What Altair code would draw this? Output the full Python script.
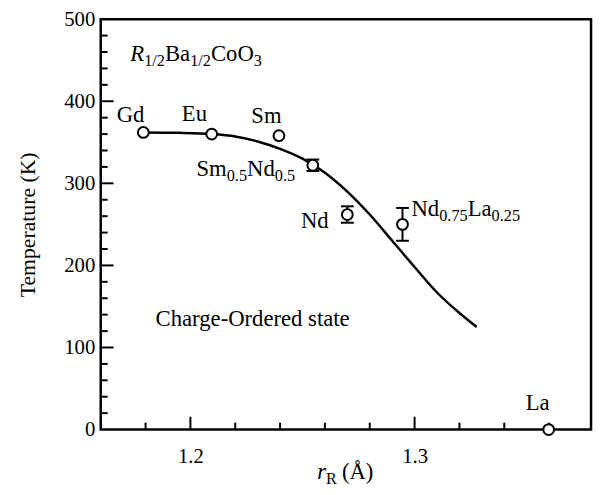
import altair as alt
import pandas as pd

FONT = "Liberation Serif"

# ---------------- data ----------------
names = ["Gd", "Eu", "Sm", "Sm0.5Nd0.5", "Nd", "Nd0.75La0.25", "La"]
r_R = [1.179, 1.2095, 1.2395, 1.2546, 1.270, 1.2946, 1.3598]
temp = [362, 360, 358, 322, 262, 250, 0]
err = [0, 0, 0, 7, 10, 20, 0]

curve_r = [1.179, 1.195, 1.2095, 1.22, 1.23, 1.24, 1.25, 1.26, 1.27,
           1.28, 1.29, 1.30, 1.31, 1.32, 1.3277]
curve_T = [362, 361.5, 360, 357, 351, 342, 330, 313, 290,
           262, 230, 198, 167, 142, 125]

x_major = [1.2, 1.3]
x_minor = [1.18, 1.22, 1.24, 1.26, 1.28, 1.32, 1.34, 1.36]
y_major = [100, 200, 300, 400]
y_minor = [20, 40, 60, 80, 120, 140, 160, 180, 220, 240, 260, 280,
           320, 340, 360, 380, 420, 440, 460, 480]
y_labels = [0, 100, 200, 300, 400, 500]

X_DOMAIN = [1.16, 1.3787]
Y_DOMAIN = [0, 500]
W_PX, H_PX = 497, 416

# label segments: (text, kind) kind: n normal, i italic, s subscript, g gap(px)
labels = [
    ([("Gd", "n")], 1.1733, 375, "center"),
    ([("Eu", "n")], 1.2018, 376, "center"),
    ([("Sm", "n")], 1.2339, 374, "center"),
    ([("Sm", "n"), ("0.5", "s"), ("Nd", "n"), ("0.5", "s")], 1.2027, 309, "left"),
    ([("Nd", "n")], 1.2555, 245, "center"),
    ([("Nd", "n"), ("0.75", "s"), ("La", "n"), ("0.25", "s")], 1.2986, 260, "left"),
    ([("La", "n")], 1.3549, 24, "center"),
    ([("Charge-Ordered state", "n")], 1.2713, 126, "right"),
    ([("R", "i"), ("1/2", "s"), ("Ba", "n"), ("1/2", "s"), ("CoO", "n"), ("3", "s")], 1.1732, 449.5, "left"),
    ([("r", "i"), ("R", "s"), ("5", "g"), ("(Å)", "n")], 1.2691, -60, "center"),
]

MAIN, SUB, DROP = 23, 16.5, 5

# Times metrics (per 1000 em)
WID = {'0': 500, '1': 500, '2': 500, '3': 500, '5': 500, '7': 500, '.': 250, '/': 278,
       'S': 556, 'm': 778, 'N': 722, 'd': 500, 'L': 611, 'a': 444, 'B': 667, 'C': 667,
       'o': 500, 'O': 722, 'R': 667, 'r': 333, '(': 333, ')': 333, 'Å': 722, ' ': 250,
       'E': 611, 'u': 500, 'G': 722, 'h': 500, 'g': 500, 'e': 444, '-': 333, 's': 389,
       't': 278}
WID_I = {'R': 611, 'r': 389}

KX = W_PX / (X_DOMAIN[1] - X_DOMAIN[0])
KY = H_PX / (Y_DOMAIN[1] - Y_DOMAIN[0])


def seg_w(text, kind):
    if kind == "g":
        return float(text)
    size = SUB if kind == "s" else MAIN
    tab = WID_I if kind == "i" else {}
    return sum(tab.get(c, WID.get(c, 500)) for c in text) * size / 1000.0


rows = []
for segs, ax, ay, align in labels:
    total = sum(seg_w(t, k) for t, k in segs)
    if align == "center":
        off = -total / 2
    elif align == "right":
        off = -total
    else:
        off = 0.0
    for t, k in segs:
        if k != "g":
            rows.append({
                "x": ax + off / KX,
                "y": ay - (DROP / KY if k == "s" else 0),
                "text": t,
                "size": SUB if k == "s" else MAIN,
                "italic": k == "i",
            })
        off += seg_w(t, k)

txt = pd.DataFrame(rows)
pts = pd.DataFrame({"r": r_R, "T": temp, "err": err, "name": names})
pts["lo"] = pts["T"] - pts["err"]
pts["hi"] = pts["T"] + pts["err"]
bars = pts[pts["err"] > 0]
curve = pd.DataFrame({"r": curve_r, "T": curve_T})

xs = alt.Scale(domain=X_DOMAIN, nice=False, zero=False)
ys = alt.Scale(domain=Y_DOMAIN, nice=False, zero=False)

axis_x = alt.Axis(values=x_major, format=".1f", title=None, grid=False, domain=False,
                  ticks=False, tickSize=0, labelFont=FONT, labelFontSize=21,
                  labelColor="black", labelPadding=16)
axis_y = alt.Axis(values=y_labels, format="d", title="Temperature (K)", grid=False,
                  domain=False, ticks=False, tickSize=0, labelFont=FONT,
                  labelFontSize=21, labelColor="black", labelPadding=6,
                  titleFont=FONT, titleFontSize=22, titleFontWeight="normal",
                  titleColor="black", titleX=-74, titleY=208, titleAngle=270,
                  titleAlign="center", titleBaseline="middle")

line = alt.Chart(curve).mark_line(color="black", strokeWidth=2.5, interpolate="monotone").encode(
    x=alt.X("r:Q", scale=xs, axis=axis_x),
    y=alt.Y("T:Q", scale=ys, axis=axis_y),
)

ebar = alt.Chart(bars).mark_rule(color="black", strokeWidth=2).encode(
    x=alt.X("r:Q", scale=xs), y=alt.Y("lo:Q", scale=ys), y2="hi:Q")
cap_lo = alt.Chart(bars).mark_tick(orient="horizontal", size=13, thickness=2, color="black", opacity=1).encode(
    x=alt.X("r:Q", scale=xs), y=alt.Y("lo:Q", scale=ys))
cap_hi = alt.Chart(bars).mark_tick(orient="horizontal", size=13, thickness=2, color="black", opacity=1).encode(
    x=alt.X("r:Q", scale=xs), y=alt.Y("hi:Q", scale=ys))

dots = alt.Chart(pts).mark_circle(size=120, color="white", stroke="black", strokeWidth=2, opacity=1).encode(
    x=alt.X("r:Q", scale=xs), y=alt.Y("T:Q", scale=ys))

tick_df_xM = pd.DataFrame({"v": x_major})
tick_df_xm = pd.DataFrame({"v": x_minor})
tick_df_yM = pd.DataFrame({"v": y_major})
tick_df_ym = pd.DataFrame({"v": y_minor})

xtM = alt.Chart(tick_df_xM).mark_rule(color="black", strokeWidth=2).encode(
    x=alt.X("v:Q", scale=xs), y=alt.value(H_PX), y2=alt.value(H_PX - 13))
xtm = alt.Chart(tick_df_xm).mark_rule(color="black", strokeWidth=2).encode(
    x=alt.X("v:Q", scale=xs), y=alt.value(H_PX), y2=alt.value(H_PX - 7))
ytM = alt.Chart(tick_df_yM).mark_rule(color="black", strokeWidth=2).encode(
    y=alt.Y("v:Q", scale=ys), x=alt.value(0), x2=alt.value(13))
ytm = alt.Chart(tick_df_ym).mark_rule(color="black", strokeWidth=2).encode(
    y=alt.Y("v:Q", scale=ys), x=alt.value(0), x2=alt.value(7))

txt_n = alt.Chart(txt[~txt["italic"]]).mark_text(font=FONT, align="left", baseline="alphabetic", color="black").encode(
    x=alt.X("x:Q", scale=xs), y=alt.Y("y:Q", scale=ys), text="text:N",
    size=alt.Size("size:Q", scale=None))
txt_i = alt.Chart(txt[txt["italic"]]).mark_text(font=FONT, fontStyle="italic", align="left", baseline="alphabetic", color="black").encode(
    x=alt.X("x:Q", scale=xs), y=alt.Y("y:Q", scale=ys), text="text:N",
    size=alt.Size("size:Q", scale=None))

chart = alt.layer(line, xtM, xtm, ytM, ytm, ebar, cap_lo, cap_hi, dots, txt_n, txt_i).properties(
    width=W_PX, height=H_PX,
    autosize=alt.AutoSizeParams(type="none"),
    padding={"left": 94, "top": 8, "right": 2, "bottom": 62},
    background="white",
).configure_view(stroke="black", strokeWidth=2.5)

chart.save("out.html", embed_options={"renderer": "svg", "actions": False})
